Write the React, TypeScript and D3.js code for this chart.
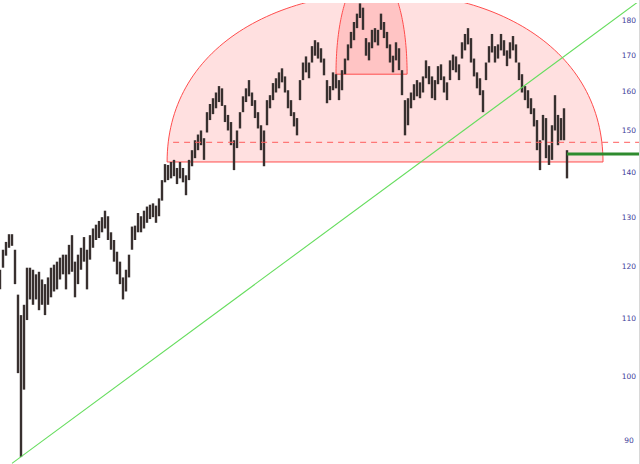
import React, { useRef, useEffect } from "react";
import * as d3 from "d3";

// bar highs / lows (one bar every ~3 px)
const highs = [
  119.2, 123.2, 124.8, 126.4, 126.4, 123.2, 114.4, 110.6, 112.5, 119.6,
  119.6, 119.2, 118.3, 118.8, 117.3, 116.4, 117.7, 119.6, 120.2, 120.8,
  121.6, 122.2, 122.2, 124.2, 126.2, 120.8, 122.2, 123.6, 125.8, 123.2,
  126.2, 127.6, 128.4, 129.2, 130, 131.4, 130.2, 126.8, 125.2, 122.8,
  120.8, 117.7, 119.2, 122.2, 128, 128.2, 130.9, 130.2, 131.4, 132.3,
  132.7, 133, 132.5, 134.1, 138.2, 141.9, 141.7, 142.4, 142.9, 141,
  142.4, 141, 139.3, 142.9, 145.2, 147.6, 149, 150, 148.1, 154.6,
  156.7, 158.2, 159.7, 161.4, 160.8, 156.4, 153.9, 152.1, 147.6, 150,
  154.6, 158.7, 160.8, 163, 159.7, 157.7, 154.6, 151.3, 150, 157.7,
  159, 162.2, 163.5, 165.1, 166.2, 164, 160.3, 157.7, 154.6, 153.1,
  163, 167.8, 169.5, 167.8, 172.4, 174.1, 173.5, 171.8, 168.9, 163,
  161.4, 165.1, 164.6, 163, 165.7, 168.9, 172.9, 176.5, 179.4, 181.9,
  185, 183.7, 174.7, 173.5, 177.1, 177.6, 177.1, 181.9, 179.4, 176.5,
  172.9, 169.7, 173.5, 171.8, 165.7, 157.7, 158.2, 159.7, 161.9, 163,
  162.4, 164, 168.4, 166.8, 164, 163, 166.8, 167.3, 164, 162.4,
  168.4, 170, 169.5, 167.3, 173.5, 175.9, 177.6, 174.7, 168.9, 165.1,
  163.5, 160.3, 167.8, 172.4, 175.9, 172.4, 172.9, 175.9, 174.1, 171.2,
  173.5, 175.3, 172.9, 167.8, 164.6, 161.4, 160.3, 158.2, 155.6, 152.6,
  147.6, 153.9, 153.1, 146.4, 151.3, 159, 153.9, 153.1, 155.6, 145.2,
];

const lows = [
  115.4, 119.6, 122, 123.6, 124, 116.4, 100.5, 87.5, 97.8, 109.7,
  113.5, 112.5, 113.5, 111.5, 112.5, 110.6, 112.5, 113.9, 115, 115.4,
  117.3, 118.3, 115.4, 118.3, 118.8, 113.9, 116.4, 119.2, 120.8, 115.4,
  121.2, 123.6, 125.2, 125.6, 126.8, 127.6, 125.2, 123.2, 120.8, 118.3,
  116.4, 113.5, 115, 117.7, 123.2, 125.2, 126.8, 126.8, 127.6, 128.8,
  129.6, 130, 128.8, 130.2, 133.6, 137.7, 138.2, 138.6, 139.1, 137.3,
  138.6, 137.7, 134.8, 138.2, 141.4, 143.3, 145.2, 146.4, 142.9, 149.5,
  152.6, 154.1, 155.6, 157.2, 156.2, 152.1, 150, 146.4, 140.5, 145.7,
  150.5, 154.6, 157.2, 158.7, 156.2, 153.1, 150.5, 145.2, 141.4, 151.3,
  155.6, 157.7, 159.7, 160.8, 162.4, 159.7, 155.6, 153.6, 151, 148.8,
  157.7, 163, 165.1, 163.5, 167.8, 169.7, 168.9, 167.8, 164.3, 156.9,
  157.7, 160.3, 160.8, 157.7, 160.3, 164.6, 168.4, 171.8, 174.1, 177.6,
  180.6, 177.1, 169.7, 168.4, 171.8, 173.5, 172.6, 177.1, 174.7, 171.8,
  167.8, 165.1, 168.4, 165.7, 159, 148.8, 151.3, 155.6, 157.7, 158.7,
  158.2, 159.7, 163.5, 161.9, 158.2, 157.7, 161.9, 163, 159.7, 157.7,
  163, 165.7, 165.1, 163, 168.9, 171.2, 172.9, 167.8, 164, 160.8,
  159, 154.6, 163, 167.8, 170.6, 167.8, 168.9, 171.2, 169.7, 166.8,
  168.9, 171.2, 167.8, 163, 159.7, 157.7, 155.6, 154.1, 151, 145.2,
  140.5, 147.6, 143.3, 141.7, 142.9, 150, 146.4, 147.6, 147.6, 138.6,
];

const yTicks = [90, 100, 110, 120, 130, 140, 150, 160, 170, 180];

// drawn annotations, in bar-index / price units
const bigArc = { left: 55.7, right: 201, base: 142.4, rise: 46 };
const topArc = { left: 112, right: 135.7, base: 164.6, rise: 31 };
const dashedLevel = { from: 57.7, price: 147.1 };
const trendLine = [
  { i: 4, p: 86.6 },
  { i: 213.3, p: 185.9 },
];
const supportLevel = { from: 189, price: 144.3 };

const W = 640;
const H = 464;

const App: React.FC = () => {
  const ref = useRef<SVGSVGElement | null>(null);

  useEffect(() => {
    document.body.style.margin = "0";
    const svg = d3.select(ref.current);
    svg.selectAll("*").remove();

    const x = d3.scaleLinear().domain([0, highs.length - 1]).range([0, 567]);
    const y = d3.scaleLog().domain([90, 180]).range([440, 20]);
    const xEnd = x.invert(W);

    svg
      .append("defs")
      .append("clipPath")
      .attr("id", "plot")
      .append("rect")
      .attr("x", 0)
      .attr("y", 3)
      .attr("width", W)
      .attr("height", H - 3);

    const g = svg.append("g").attr("clip-path", "url(#plot)");

    // half circles (round in price space, so flattened on the log axis)
    const arcPath = (a: typeof bigArc) => {
      const cx = (a.left + a.right) / 2;
      const rx = (a.right - a.left) / 2;
      const pts = d3.range(0, 121).map((k) => {
        const t = (Math.PI * k) / 120;
        return [x(cx - rx * Math.cos(t)), y(a.base + a.rise * Math.sin(t))] as [number, number];
      });
      return d3.line()(pts) + "Z";
    };

    g.append("path")
      .attr("d", arcPath(bigArc))
      .attr("fill", "rgba(255,0,0,0.12)")
      .attr("stroke", "#ff4d4d")
      .attr("stroke-width", 1);

    g.append("path")
      .attr("d", arcPath(topArc))
      .attr("fill", "rgba(255,0,0,0.12)")
      .attr("stroke", "#ff4d4d")
      .attr("stroke-width", 1);

    // price bars
    g.append("g")
      .selectAll("line")
      .data(highs)
      .join("line")
      .attr("x1", (_, i) => x(i))
      .attr("x2", (_, i) => x(i))
      .attr("y1", (d) => y(d))
      .attr("y2", (_, i) => y(lows[i]))
      .attr("stroke", "#38302f")
      .attr("stroke-width", 2.4);

    // dashed level
    g.append("line")
      .attr("x1", x(dashedLevel.from))
      .attr("x2", W)
      .attr("y1", y(dashedLevel.price))
      .attr("y2", y(dashedLevel.price))
      .attr("stroke", "#ff5c5c")
      .attr("stroke-width", 1)
      .style("stroke-dasharray", "6,5");

    // trend line
    g.append("line")
      .attr("x1", x(trendLine[0].i))
      .attr("y1", y(trendLine[0].p))
      .attr("x2", x(trendLine[1].i))
      .attr("y2", y(trendLine[1].p))
      .attr("stroke", "#66dd5e")
      .attr("stroke-width", 1.1);

    // last support
    g.append("line")
      .attr("x1", x(supportLevel.from))
      .attr("x2", x(xEnd))
      .attr("y1", y(supportLevel.price))
      .attr("y2", y(supportLevel.price))
      .attr("stroke", "#2e8b2e")
      .attr("stroke-width", 3);

    // right axis labels
    svg
      .append("g")
      .selectAll("text")
      .data(yTicks)
      .join("text")
      .attr("x", 629)
      .attr("y", (d) => y(d) + 3)
      .attr("text-anchor", "middle")
      .attr("fill", "#40409a")
      .style("font-family", "DejaVu Sans, sans-serif")
      .style("font-size", "7.5px")
      .text((d) => d);

    svg
      .append("line")
      .attr("x1", W - 0.5)
      .attr("x2", W - 0.5)
      .attr("y1", 0)
      .attr("y2", H)
      .attr("stroke", "#d8d8d8");
  }, []);

  return <svg ref={ref} width={W} height={H} style={{ display: "block", background: "#fff" }} />;
};

export default App;
